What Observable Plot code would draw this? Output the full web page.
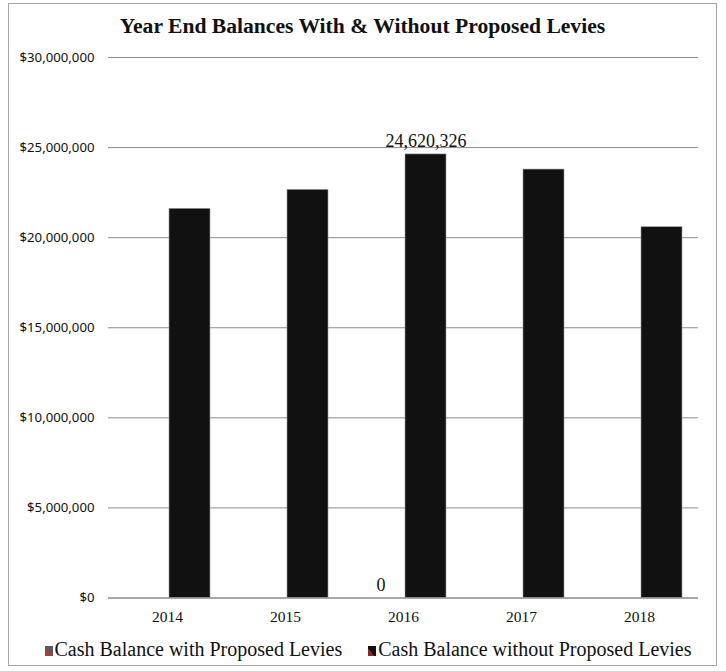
<!DOCTYPE html>
<html>
<head>
<meta charset="utf-8">
<script src="https://cdn.jsdelivr.net/npm/d3@7"></script>
<script src="https://cdn.jsdelivr.net/npm/@observablehq/plot@0.6"></script>
<style>
  body { margin: 0; background: #fff; }
  #wrap { position: relative; width: 726px; height: 671px; overflow: hidden; }
  #border { position: absolute; left: 8px; top: 3px; width: 707px; height: 661px; border: 1px solid #a6a6a6; box-sizing: content-box; }
  #title { position: absolute; left: 8px; width: 709px; top: 14px; text-align: center; font-family: "Liberation Serif", serif; font-weight: bold; font-size: 21.6px; color: #111; }
  #chart { position: absolute; left: 0; top: 0; }
  #legend { position: absolute; left: 0; width: 726px; top: 638px; display: flex; justify-content: center; gap: 26px; font-family: "Liberation Serif", serif; font-size: 20px; color: #111; margin-left: 5px; }
  .item { display: flex; align-items: center; gap: 2px; }
  .sw { width: 8px; height: 10px; display: inline-block; margin-top: 3px; }
</style>
</head>
<body>
<div id="wrap">
  <div id="border"></div>
  <div id="title">Year End Balances With &amp; Without Proposed Levies</div>
  <div id="chart"></div>
  <div id="legend"></div>
</div>
<script>
const years = ["2014", "2015", "2016", "2017", "2018"];
const seriesNames = ["Cash Balance with Proposed Levies", "Cash Balance without Proposed Levies"];
const withLevies = [0, 0, 0, 0, 0];
const withoutLevies = [21600000, 22650000, 24620326, 23780000, 20580000];
const yTicks = [0, 5000000, 10000000, 15000000, 20000000, 25000000, 30000000];
const labeledYear = "2016";

const seriesColors = ["#555555", "#111111"];
const swatchBg = [
  "linear-gradient(to top right, #b23a2e 0 40%, #5a5a5a 40% 100%)",
  "linear-gradient(to top right, #8b2a22 0 40%, #111 40% 100%)"
];

const rows = [];
years.forEach((y, i) => {
  rows.push({year: y, series: seriesNames[0], value: withLevies[i]});
  rows.push({year: y, series: seriesNames[1], value: withoutLevies[i]});
});
const labelRows = rows.filter(d => d.year === labeledYear);

const chart = Plot.plot({
  width: 726,
  height: 671,
  marginLeft: 106,
  marginRight: 26,
  marginTop: 57,
  marginBottom: 73.5,
  fx: {domain: years, padding: 0, label: null},
  x: {domain: seriesNames, paddingInner: 0.087, paddingOuter: 0.335, axis: null},
  y: {domain: [0, 30000000], ticks: yTicks, label: null},
  color: {domain: seriesNames, range: seriesColors},
  style: {background: "transparent"},
  marks: [
    Plot.gridY(yTicks, {stroke: "#8c8c8c", strokeOpacity: 1, strokeWidth: 1}),
    Plot.axisY(yTicks, {tickSize: 0, tickPadding: 14, tickFormat: d3.format("$,"), fontSize: 13.2, fontFamily: "Noto Sans", fill: "#111", label: null}),
    Plot.axisFx({anchor: "bottom", tickSize: 0, tickPadding: 13, fontSize: 15.5, fontFamily: "Liberation Serif", fill: "#111", label: null}),
    Plot.barY(rows, {fx: "year", x: "series", y: "value", fill: "series", stroke: "#9a9a9a", strokeWidth: 0.6}),
    Plot.ruleY([0], {stroke: "#8c8c8c", strokeWidth: 1.2}),
    Plot.text(labelRows, {fx: "year", x: "series", y: "value", text: d => d3.format(",")(d.value), lineAnchor: "bottom", dy: -7, fontSize: 18, fontFamily: "Liberation Serif", fill: "#111"})
  ]
});
document.getElementById("chart").appendChild(chart);

const legend = document.getElementById("legend");
seriesNames.forEach((name, i) => {
  const item = document.createElement("div");
  item.className = "item";
  const sw = document.createElement("span");
  sw.className = "sw";
  sw.style.background = swatchBg[i];
  const t = document.createElement("span");
  t.textContent = name;
  item.appendChild(sw);
  item.appendChild(t);
  legend.appendChild(item);
});
</script>
</body>
</html>
